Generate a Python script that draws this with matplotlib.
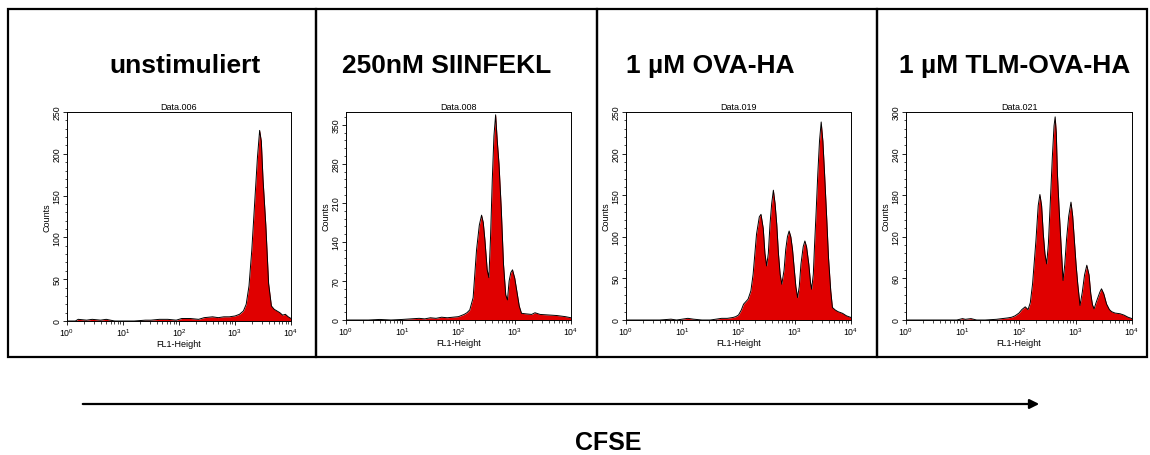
import matplotlib
matplotlib.use("Agg")
import matplotlib.pyplot as plt
from matplotlib.patches import Rectangle, FancyArrowPatch
from matplotlib.ticker import MultipleLocator, LogLocator, NullFormatter

plt.rcParams["font.family"] = ["Liberation Sans", "DejaVu Sans"]

titles = ["unstimuliert", "250nM SIINFEKL", "1 µM OVA-HA", "1 µM TLM-OVA-HA"]
samples = ["Data.006", "Data.008", "Data.019", "Data.021"]
y_max = [250, 373, 250, 300]
y_step = [50, 70, 50, 60]
y_minor = [10, 14, 10, 12]

# log10(FL1-Height) and counts
dec_006 = [0.0, 0.15, 0.2, 0.35, 0.45, 0.6, 0.7, 0.85, 1.0, 1.2, 1.4, 1.5, 1.65,
           1.8, 1.95, 2.05, 2.2, 2.35, 2.45, 2.6, 2.7, 2.8, 2.9, 3.0, 3.08, 3.15,
           3.2, 3.25, 3.3, 3.35, 3.4, 3.44, 3.47, 3.5, 3.55, 3.6, 3.65, 3.7, 3.75,
           3.8, 3.85, 3.9, 3.95, 4.0]
cnt_006 = [0, 0, 2, 1, 2, 1, 2, 0, 0, 0, 1, 1, 2,
           2, 1, 3, 3, 2, 4, 5, 4, 5, 5, 6, 8, 12,
           20, 42, 85, 140, 195, 228, 215, 170, 115, 45, 18, 14, 12,
           10, 7, 8, 5, 3]

dec_008 = [0.0, 0.2, 0.4, 0.6, 0.8, 1.0, 1.15, 1.3, 1.4, 1.5, 1.6, 1.7, 1.8,
           1.9, 2.0, 2.05, 2.1, 2.15, 2.2, 2.26, 2.32, 2.37, 2.41, 2.44, 2.47,
           2.51, 2.54, 2.57, 2.6, 2.63, 2.66, 2.69, 2.72, 2.76, 2.8, 2.84, 2.87,
           2.9, 2.93, 2.96, 3.0, 3.04, 3.08, 3.12, 3.2, 3.3, 3.36, 3.45, 3.6,
           3.75, 3.9, 4.0]
cnt_008 = [0, 0, 0, 1, 0, 1, 2, 3, 2, 4, 3, 5, 4,
           5, 6, 8, 10, 13, 18, 40, 125, 170, 188, 175, 143,
           90, 76, 150, 250, 330, 368, 320, 280, 200, 100, 45, 36,
           70, 85, 90, 75, 50, 25, 12, 11, 10, 13, 10, 9,
           8, 6, 4]

dec_019 = [0.0, 0.3, 0.6, 0.8, 0.9, 1.1, 1.2, 1.35, 1.5, 1.6, 1.7, 1.8, 1.9,
           1.95, 2.0, 2.05, 2.09, 2.13, 2.17, 2.22, 2.26, 2.32, 2.37, 2.4, 2.44,
           2.47, 2.5, 2.53, 2.56, 2.59, 2.62, 2.65, 2.68, 2.71, 2.74, 2.77, 2.81,
           2.84, 2.87, 2.9, 2.93, 2.96, 2.99, 3.02, 3.05, 3.08, 3.11, 3.15, 3.18,
           3.21, 3.25, 3.28, 3.3, 3.33, 3.35, 3.38, 3.41, 3.44, 3.47, 3.5, 3.53,
           3.57, 3.6, 3.64, 3.67, 3.72, 3.77, 3.85, 3.92, 4.0]
cnt_019 = [0, 0, 0, 1, 0, 2, 1, 0, 0, 1, 2, 2, 3,
           4, 6, 12, 19, 22, 25, 35, 55, 103, 124, 127, 110,
           80, 65, 80, 115, 140, 156, 140, 115, 80, 55, 43, 60,
           85, 100, 107, 100, 85, 62, 40, 27, 40, 67, 88, 95,
           88, 67, 45, 37, 55, 87, 130, 176, 215, 238, 215, 176,
           120, 75, 35, 15, 12, 10, 8, 5, 3]

dec_021 = [0.0, 0.3, 0.6, 0.9, 1.0, 1.05, 1.15, 1.25, 1.4, 1.6, 1.7, 1.8, 1.87,
           1.93, 2.0, 2.05, 2.11, 2.16, 2.2, 2.24, 2.3, 2.34, 2.37, 2.4, 2.43,
           2.46, 2.49, 2.52, 2.55, 2.59, 2.62, 2.64, 2.66, 2.68, 2.71, 2.74, 2.78,
           2.81, 2.84, 2.88, 2.92, 2.95, 2.98, 3.01, 3.04, 3.08, 3.12, 3.16, 3.2,
           3.24, 3.27, 3.3, 3.33, 3.36, 3.39, 3.43, 3.46, 3.5, 3.55, 3.6, 3.64,
           3.7, 3.79, 3.86, 3.93, 4.0]
cnt_021 = [0, 0, 0, 0, 2, 1, 2, 0, 0, 1, 2, 3, 4,
           6, 10, 15, 19, 15, 25, 52, 115, 165, 181, 165, 124,
           95, 81, 110, 163, 235, 280, 293, 270, 211, 160, 115, 57,
           80, 115, 150, 170, 150, 115, 80, 52, 21, 40, 65, 79,
           65, 38, 22, 16, 24, 31, 40, 45, 38, 23, 15, 12,
           10, 9, 7, 4, 2]

decades = [dec_006, dec_008, dec_019, dec_021]
counts = [cnt_006, cnt_008, cnt_019, cnt_021]

W, H = 1150, 456
fig = plt.figure(figsize=(W / 100, H / 100), dpi=100)

# pixel layout (left, top, width, height)
axes_px = [(67, 113, 224, 209), (346, 113, 225, 208),
           (626, 113, 225, 208), (906, 113, 226, 208)]
box_px = [(8, 316), (316, 597), (597, 877), (877, 1147)]
title_x = [185, 447, 710, 1015]

for x0, x1 in box_px:
    fig.add_artist(Rectangle((x0 / W, 1 - 358 / H), (x1 - x0) / W, 348 / H,
                             transform=fig.transFigure, fill=False,
                             lw=1.6, ec="black"))

for i in range(4):
    l, t, w, h = axes_px[i]
    ax = fig.add_axes([l / W, 1 - (t + h) / H, w / W, h / H])
    xs = [10 ** d for d in decades[i]]
    ax.fill_between(xs, 0, counts[i], color="#e00000", lw=0)
    ax.plot(xs, counts[i], color="black", lw=0.7)
    ax.set_xscale("log")
    ax.set_xlim(1, 1e4)
    ax.set_ylim(0, y_max[i])
    ax.yaxis.set_major_locator(MultipleLocator(y_step[i]))
    ax.yaxis.set_minor_locator(MultipleLocator(y_minor[i]))
    ax.xaxis.set_major_locator(LogLocator(base=10))
    ax.xaxis.set_minor_locator(LogLocator(base=10, subs=range(2, 10)))
    ax.xaxis.set_minor_formatter(NullFormatter())
    ax.tick_params(which="major", length=3, width=0.6, labelsize=6.3, pad=1)
    ax.tick_params(which="minor", length=1.8, width=0.5)
    ax.tick_params(axis="y", labelrotation=90)
    for lab in ax.get_yticklabels():
        lab.set_va("center")
    for s in ax.spines.values():
        s.set_linewidth(0.7)
    ax.set_title(samples[i], fontsize=6.5, pad=2)
    ax.set_ylabel("Counts", fontsize=6.5, labelpad=1)
    ax.set_xlabel("FL1-Height", fontsize=6.5, labelpad=0.5)
    fig.text(title_x[i] / W, 1 - 66 / H, titles[i], fontsize=19,
             fontweight="bold", ha="center", va="center")

fig.add_artist(FancyArrowPatch((80 / W, 1 - 405 / H), (1042 / W, 1 - 405 / H),
                               transform=fig.transFigure, arrowstyle="-|>",
                               mutation_scale=14, lw=1.6, color="black"))
fig.text(608 / W, 1 - 443 / H, "CFSE", fontsize=18, fontweight="bold",
         ha="center", va="center")

fig.savefig("out.png", dpi=100)
